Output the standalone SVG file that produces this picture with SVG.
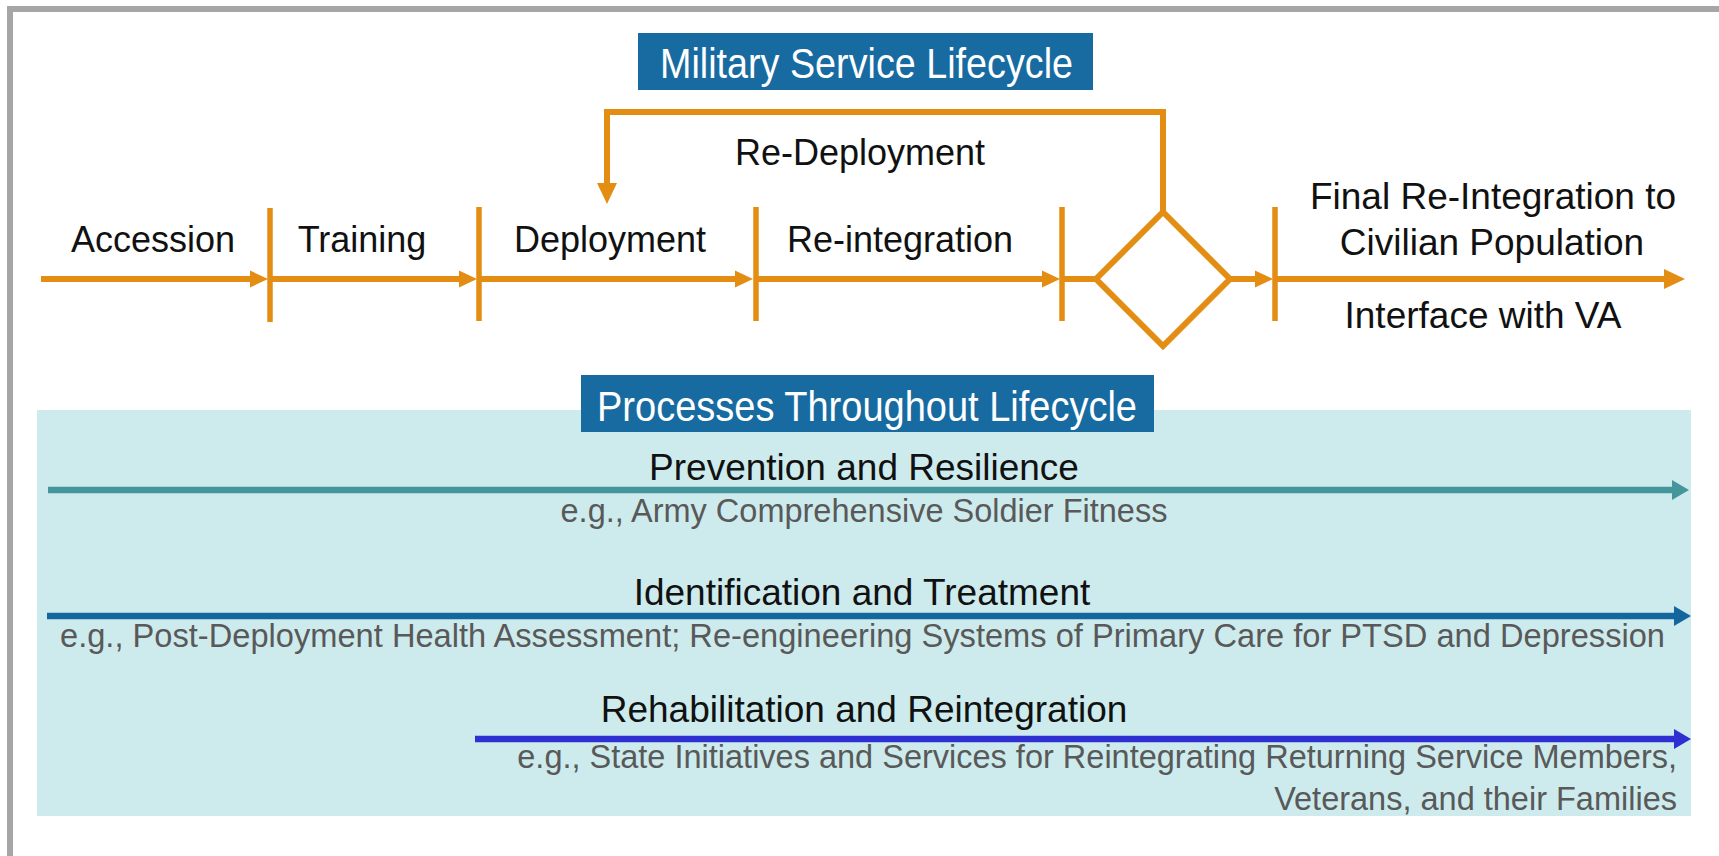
<svg xmlns="http://www.w3.org/2000/svg" width="1719" height="856" viewBox="0 0 1719 856">
<style>
  text { font-family: "Liberation Sans", Arial, sans-serif; }
  .lbl { font-size: 36px; fill: #111; text-anchor: middle; }
  .hd { font-size: 37px; fill: #111; text-anchor: middle; }
  .sub { font-size: 32.5px; fill: #595959; }
  .ttl { font-size: 43px; fill: #fff; }
  .tbox { fill: #186ba1; }
  .orange { stroke: #e38d13; stroke-width: 6; fill: none; }
  .tick { stroke: #e38d13; stroke-width: 5.5; fill: none; }
</style>
<defs>
  <marker id="ahS" markerUnits="userSpaceOnUse" markerWidth="18" markerHeight="18" viewBox="0 0 18 18" refX="8" refY="9" orient="auto">
    <path d="M0,0.5 L18,9 L0,17.5 Z" fill="#e38d13"/>
  </marker>
  <marker id="ahL" markerUnits="userSpaceOnUse" markerWidth="21" markerHeight="20" viewBox="0 0 21 20" refX="11" refY="10" orient="auto">
    <path d="M0,0 L21,10 L0,20 Z" fill="#e38d13"/>
  </marker>
  <marker id="ahTeal" markerUnits="userSpaceOnUse" markerWidth="17" markerHeight="20" viewBox="0 0 17 20" refX="7" refY="10" orient="auto">
    <path d="M0,0 L17,10 L0,20 Z" fill="#45969c"/>
  </marker>
  <marker id="ahDark" markerUnits="userSpaceOnUse" markerWidth="17" markerHeight="20" viewBox="0 0 17 20" refX="7" refY="10" orient="auto">
    <path d="M0,0 L17,10 L0,20 Z" fill="#14679e"/>
  </marker>
  <marker id="ahBlue" markerUnits="userSpaceOnUse" markerWidth="17" markerHeight="20" viewBox="0 0 17 20" refX="7" refY="10" orient="auto">
    <path d="M0,0 L17,10 L0,20 Z" fill="#2e30d2"/>
  </marker>
</defs>

<rect x="0" y="0" width="1719" height="856" fill="#fff"/>
<path id="frame" d="M10,870 V9 H1730" fill="none" stroke="#a6a6a6" stroke-width="6"/>

<g id="processes-panel">
  <rect x="37" y="410" width="1654" height="406" fill="#cdebed"/>
</g>

<g id="title-lifecycle">
  <rect class="tbox" x="638" y="33" width="455" height="57"/>
  <text class="ttl" x="660" y="78" textLength="413" lengthAdjust="spacingAndGlyphs">Military Service Lifecycle</text>
</g>

<g id="title-processes">
  <rect class="tbox" x="581" y="375" width="573" height="57"/>
  <text class="ttl" x="597" y="421" textLength="540" lengthAdjust="spacingAndGlyphs">Processes Throughout Lifecycle</text>
</g>

<g id="connectors">
  <path class="orange" d="M41,279 H258" marker-end="url(#ahS)"/>
  <path class="orange" d="M270,279 H467" marker-end="url(#ahS)"/>
  <path class="orange" d="M479,279 H743" marker-end="url(#ahS)"/>
  <path class="orange" d="M756,279 H1050" marker-end="url(#ahS)"/>
  <path class="orange" d="M1062,279 H1097"/>
  <path class="orange" d="M1230,279 H1263" marker-end="url(#ahS)"/>
  <path class="orange" d="M1275,279 H1675" marker-end="url(#ahL)"/>
  <path class="orange" d="M1163,212 V112 H607 V194" marker-end="url(#ahL)"/>
  <path d="M48,490 H1679" stroke="#45969c" stroke-width="6.5" fill="none" marker-end="url(#ahTeal)"/>
  <path d="M47,616 H1681" stroke="#14679e" stroke-width="6.5" fill="none" marker-end="url(#ahDark)"/>
  <path d="M475,739 H1681" stroke="#2e30d2" stroke-width="6.5" fill="none" marker-end="url(#ahBlue)"/>
</g>

<g id="ticks">
  <line class="tick" x1="270" y1="208" x2="270" y2="322"/>
  <line class="tick" x1="479" y1="207" x2="479" y2="321"/>
  <line class="tick" x1="756" y1="207" x2="756" y2="321"/>
  <line class="tick" x1="1062" y1="207" x2="1062" y2="321"/>
  <line class="tick" x1="1275" y1="207" x2="1275" y2="321"/>
</g>

<g id="decision">
  <polygon class="orange" points="1163,212 1230,279 1163,346 1096,279"/>
</g>

<g id="stage-accession"><text class="lbl" x="153" y="252">Accession</text></g>
<g id="stage-training"><text class="lbl" x="362" y="252">Training</text></g>
<g id="stage-deployment"><text class="lbl" x="610" y="252">Deployment</text></g>
<g id="stage-reintegration"><text class="lbl" x="900" y="252">Re-integration</text></g>
<g id="label-redeployment"><text class="lbl" x="860" y="165">Re-Deployment</text></g>
<g id="stage-final">
  <text class="hd" x="1493" y="209">Final Re-Integration to</text>
  <text class="hd" x="1492" y="255">Civilian Population</text>
  <text class="hd" x="1483" y="328">Interface with VA</text>
</g>

<g id="process-prevention">
  <text class="hd" x="864" y="480">Prevention and Resilience</text>
  <text class="sub" x="864" y="522" text-anchor="middle">e.g., Army Comprehensive Soldier Fitness</text>
</g>
<g id="process-identification">
  <text class="hd" x="862" y="605">Identification and Treatment</text>
  <text class="sub" x="60" y="647" textLength="1605" lengthAdjust="spacingAndGlyphs">e.g., Post-Deployment Health Assessment; Re-engineering Systems of Primary Care for PTSD and Depression</text>
</g>
<g id="process-rehabilitation">
  <text class="hd" x="864" y="722">Rehabilitation and Reintegration</text>
  <text class="sub" x="1677" y="768" text-anchor="end">e.g., State Initiatives and Services for Reintegrating Returning Service Members,</text>
  <text class="sub" x="1677" y="810" text-anchor="end">Veterans, and their Families</text>
</g>
</svg>
